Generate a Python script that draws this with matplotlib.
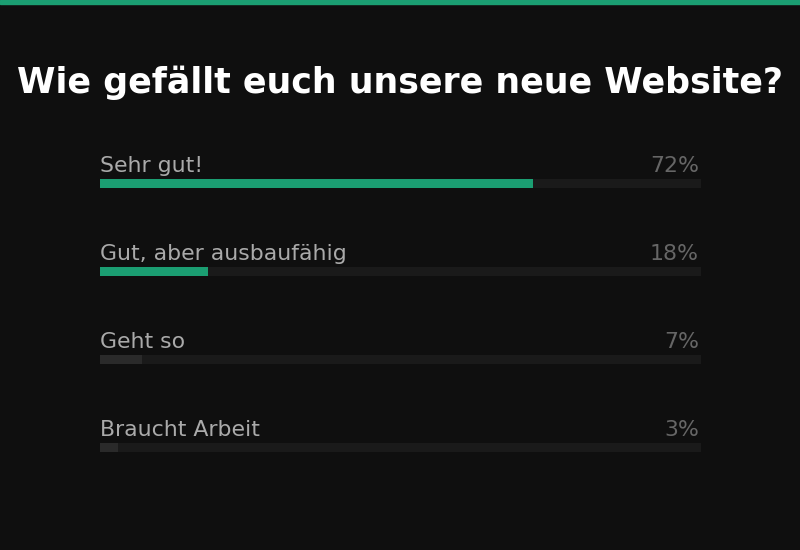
import matplotlib
matplotlib.use("Agg")
import matplotlib.pyplot as plt
from matplotlib.transforms import ScaledTranslation

title = "Wie gefällt euch unsere neue Website?"
categories = ["Sehr gut!", "Gut, aber ausbaufähig", "Geht so", "Braucht Arbeit"]
values = [72, 18, 7, 3]
bar_colors = ["#1b9e72", "#1b9e72", "#2a2a2a", "#2a2a2a"]

BG = "#0f0f0f"
TRACK = "#1a1a1a"

fig = plt.figure(figsize=(8, 5.5), dpi=100, facecolor=BG)
fig.add_artist(plt.Rectangle((0, 1 - 4 / 550), 1, 4 / 550, transform=fig.transFigure,
                             color="#1b9e72", zorder=5))
fig.text(0.5, 1 - 83 / 550, title, ha="center", va="center", color="white",
         fontsize=25.15, fontweight="bold", family="DejaVu Sans")

ax = fig.add_axes([100 / 800, 0, 601 / 800, 1])
ax.set_facecolor("none")
ax.set_xlim(0, 100)
row = 88.0
top = 183.5
ax.set_ylim((550 - top) / row, -top / row)
h = 9 / row
idx = list(range(len(categories)))
ax.barh(idx, [100] * len(idx), height=h, color=TRACK, left=0)
ax.barh(idx, values, height=h, color=bar_colors, left=0)
shift = ScaledTranslation(-2 / 100, 0, fig.dpi_scale_trans)
for i, (c, v) in enumerate(zip(categories, values)):
    y = i - (4.5 + 6.5) / row
    ax.text(0, y, c, ha="left", va="baseline", color="#aaaaaa", fontsize=15.8)
    ax.text(100, y, f"{v}%", ha="right", va="baseline", color="#666666", fontsize=15.8,
            transform=ax.transData + shift)
ax.axis("off")

fig.savefig("out.png", dpi=100, facecolor=BG)
